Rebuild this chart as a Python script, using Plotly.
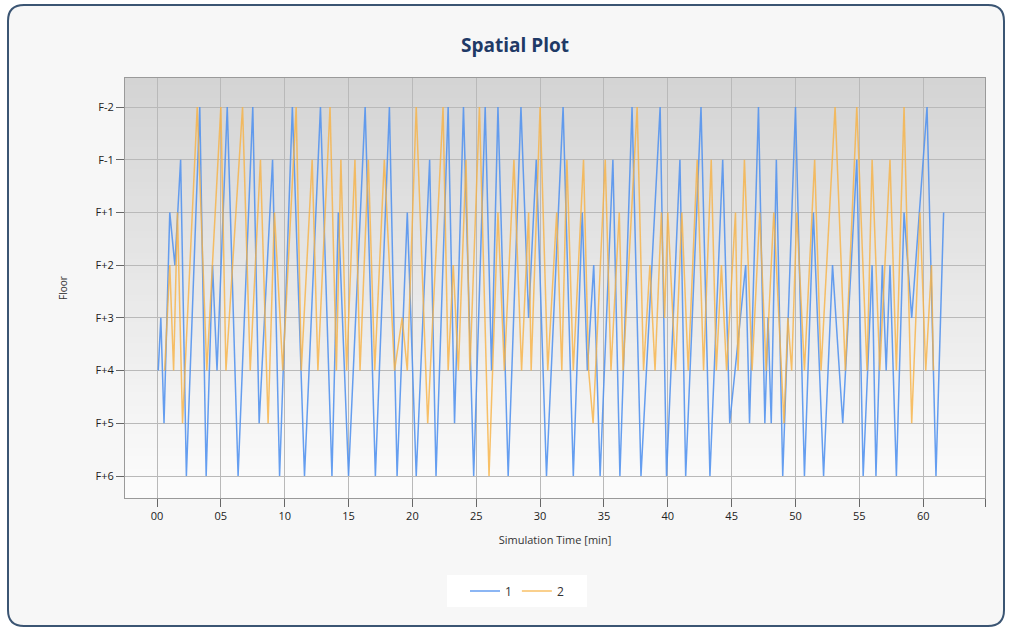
import plotly.graph_objects as go

# ---------------- data ----------------
floor_labels = ["F+6", "F+5", "F+4", "F+3", "F+2", "F+1", "F-1", "F-2"]  # bottom -> top
x_tick_vals = [0, 5, 10, 15, 20, 25, 30, 35, 40, 45, 50, 55, 60]
x_tick_text = ["00", "05", "10", "15", "20", "25", "30", "35", "40", "45", "50", "55", "60"]

series1_time = [0.1, 0.3, 0.55, 1.0, 1.4, 1.85, 2.3, 3.35, 3.85, 4.35, 4.7, 5.5, 6.35, 7.5, 8.0,
                9.05, 9.6, 10.6, 11.55, 12.8, 13.7, 14.2, 15.0, 16.3, 17.1, 18.2, 18.8, 19.6,
                20.3, 21.35, 21.85, 22.8, 23.3, 24.0, 24.8, 25.7, 26.2, 26.7, 27.5, 28.5, 29.1,
                29.7, 30.5, 31.8, 32.6, 33.3, 33.7, 34.2, 34.7, 35.7, 36.25, 37.2, 37.9, 39.4,
                39.9, 40.95, 41.4, 42.6, 43.3, 44.3, 44.85, 46.1, 46.4, 47.1, 47.6, 47.85, 48.1,
                48.5, 49.0, 50.0, 50.7, 51.4, 52.2, 52.9, 53.7, 54.8, 55.3, 56.0, 56.3, 56.8,
                57.1, 57.4, 57.9, 58.5, 59.1, 60.3, 61.0, 61.6]
series1_floor = ["F+4", "F+3", "F+5", "F+1", "F+2", "F-1", "F+6", "F-2", "F+6", "F+2", "F+4", "F-2",
                 "F+6", "F-2", "F+5", "F-1", "F+6", "F-2", "F+6", "F-2", "F+6", "F+1", "F+6", "F-2",
                 "F+6", "F-2", "F+6", "F+1", "F+6", "F-1", "F+6", "F-2", "F+5", "F-2", "F+6", "F-2",
                 "F+4", "F-2", "F+6", "F-2", "F+3", "F-1", "F+6", "F-2", "F+6", "F+1", "F+4", "F+2",
                 "F+6", "F-1", "F+6", "F-2", "F+6", "F-2", "F+6", "F-1", "F+6", "F-2", "F+6", "F-1",
                 "F+5", "F+2", "F+5", "F-2", "F+5", "F+3", "F+5", "F-1", "F+6", "F-2", "F+6", "F+1",
                 "F+6", "F+2", "F+5", "F-1", "F+6", "F+2", "F+6", "F+2", "F+4", "F+2", "F+6", "F+1",
                 "F+3", "F-2", "F+6", "F+1"]

series2_time = [0.6, 1.0, 1.3, 1.6, 2.0, 3.15, 3.9, 5.0, 5.4, 6.7, 7.3, 8.1, 8.7, 9.2, 9.85, 10.9,
                11.3, 12.15, 12.6, 13.55, 14.05, 14.4, 14.85, 15.5, 15.9, 16.55, 17.05, 17.8, 18.6,
                19.2, 19.6, 20.3, 21.2, 22.4, 22.8, 23.2, 23.6, 24.2, 24.5, 25.25, 26.0, 26.7, 27.2,
                27.95, 28.55, 29.1, 29.3, 30.0, 30.6, 31.3, 31.7, 32.1, 32.6, 33.4, 33.8, 34.15,
                35.1, 35.55, 36.2, 36.5, 37.6, 38.1, 38.6, 39.0, 39.5, 39.75, 40.0, 40.6, 41.1,
                41.6, 42.3, 42.8, 43.4, 43.8, 44.2, 44.6, 45.3, 45.5, 46.0, 46.6, 47.2, 47.7, 48.3,
                49.1, 49.4, 49.7, 50.1, 50.7, 51.5, 52.0, 53.1, 53.9, 54.8, 55.6, 56.0, 56.6, 57.4,
                57.9, 58.5, 59.1, 59.75, 60.2, 60.65, 60.8]
series2_floor = ["F+4", "F+2", "F+4", "F+1", "F+5", "F-2", "F+4", "F-2", "F+4", "F-2", "F+4", "F-1",
                 "F+5", "F+1", "F+4", "F-2", "F+4", "F-1", "F+4", "F-2", "F+4", "F-1", "F+4", "F-1",
                 "F+4", "F-1", "F+4", "F-1", "F+4", "F+3", "F+4", "F-2", "F+5", "F-2", "F+4", "F+2",
                 "F+4", "F-1", "F+4", "F-2", "F+6", "F+1", "F+4", "F-1", "F+4", "F+1", "F+4", "F-2",
                 "F+4", "F+1", "F+4", "F-1", "F+4", "F-1", "F+4", "F+5", "F-1", "F+4", "F+1", "F+4",
                 "F-2", "F+4", "F+2", "F+4", "F+1", "F+3", "F+1", "F+4", "F+1", "F+4", "F-1", "F+4",
                 "F-1", "F+4", "F+2", "F+4", "F+1", "F+4", "F-1", "F+4", "F+1", "F+4", "F+1", "F+5",
                 "F+3", "F+4", "F+1", "F+4", "F-1", "F+4", "F-2", "F+4", "F-2", "F+4", "F-1", "F+4",
                 "F-1", "F+4", "F-2", "F+5", "F+1", "F+4", "F+2", "F+4"]

series_names = ["1", "2"]

# ---------------- layout geometry (pixels) ----------------
W, H = 1013, 629
ML, MR, MT, MB = 125, 28, 78, 131
PW, PH = W - ML - MR, H - MT - MB


def px2paper(px, py):
    return (px - ML) / PW, (H - MB - py) / PH


fig = go.Figure()
fig.add_trace(go.Scatter(x=series1_time, y=series1_floor, mode="lines", name=series_names[0],
                         line=dict(color="rgba(84,148,238,0.9)", width=1.5)))
fig.add_trace(go.Scatter(x=series2_time, y=series2_floor, mode="lines", name=series_names[1],
                         line=dict(color="rgba(247,178,66,0.8)", width=1.5)))

shapes = []
# outer rounded frame
x0, y0 = px2paper(8, 5)
x1, y1 = px2paper(1004, 626)
rx = 16 / PW
ry = 16 / PH
path = (f"M {x0+rx},{y0} L {x1-rx},{y0} Q {x1},{y0} {x1},{y0-ry} "
        f"L {x1},{y1+ry} Q {x1},{y1} {x1-rx},{y1} L {x0+rx},{y1} "
        f"Q {x0},{y1} {x0},{y1+ry} L {x0},{y0-ry} Q {x0},{y0} {x0+rx},{y0} Z")
shapes.append(dict(type="path", path=path, xref="paper", yref="paper", layer="below",
                   fillcolor="#f7f7f7", line=dict(color="#3b5573", width=2)))

# plot-area vertical gradient
N = 60
top_c, bot_c = (212, 212, 212), (252, 252, 252)
for i in range(N):
    f = i / (N - 1)
    c = tuple(round(top_c[k] + (bot_c[k] - top_c[k]) * f) for k in range(3))
    shapes.append(dict(type="rect", xref="x domain", yref="y domain", layer="below",
                       x0=0, x1=1, y0=1 - (i + 1) / N, y1=1 - i / N + 0.002,
                       fillcolor=f"rgb{c}", line=dict(width=0)))

# legend white box
lx0, ly0 = px2paper(447, 575)
lx1, ly1 = px2paper(587, 607)
shapes.append(dict(type="rect", xref="paper", yref="paper", layer="below",
                   x0=lx0, x1=lx1, y0=ly1, y1=ly0, fillcolor="white", line=dict(width=0)))

font_main = "Open Sans, Roboto, DejaVu Sans, sans-serif"

fig.update_layout(
    width=W, height=H,
    margin=dict(l=ML, r=MR, t=MT, b=MB, autoexpand=False),
    paper_bgcolor="white",
    plot_bgcolor="rgba(0,0,0,0)",
    shapes=shapes,
    title=dict(text="<b>Spatial Plot</b>", x=(515) / W, xanchor="center",
               y=1 - 45 / H, yanchor="middle",
               font=dict(family=font_main, size=19, color="#1f3a66")),
    showlegend=True,
    legend=dict(orientation="h", x=(517 - ML) / PW, xanchor="center",
                y=(H - MB - 591) / PH, yanchor="middle",
                bgcolor="rgba(0,0,0,0)", font=dict(family=font_main, size=12, color="#333"),
                itemwidth=30, traceorder="normal"),
    font=dict(family=font_main, size=11, color="#333"),
)

fig.update_xaxes(
    range=[(ML - 157) / 12.77, (W - MR - 157) / 12.77],
    tickvals=x_tick_vals + [(W - MR - 157) / 12.77], ticktext=x_tick_text + [""],
    ticks="outside", ticklen=8, tickcolor="#666",
    showgrid=True, gridcolor="#b9b9b9", gridwidth=1,
    showline=True, linecolor="#9a9a9a", linewidth=1, mirror=True,
    zeroline=False,
    title=dict(text="Simulation Time [min]", font=dict(family=font_main, size=11, color="#333"),
               standoff=14),
    tickfont=dict(family=font_main, size=11, color="#222"),
)

fig.update_yaxes(
    type="category", categoryorder="array", categoryarray=floor_labels,
    range=[-(498 - 476) / 52.71, 7 + (107 - MT) / 52.71],
    ticks="outside", ticklen=8, tickcolor="#666",
    showgrid=True, gridcolor="#b9b9b9", gridwidth=1,
    showline=True, linecolor="#9a9a9a", linewidth=1, mirror=True,
    zeroline=False,
    title=dict(text="Floor", font=dict(family=font_main, size=10, color="#333"), standoff=26),
    tickfont=dict(family=font_main, size=11, color="#222"),
)

fig.write_html("out.html")
